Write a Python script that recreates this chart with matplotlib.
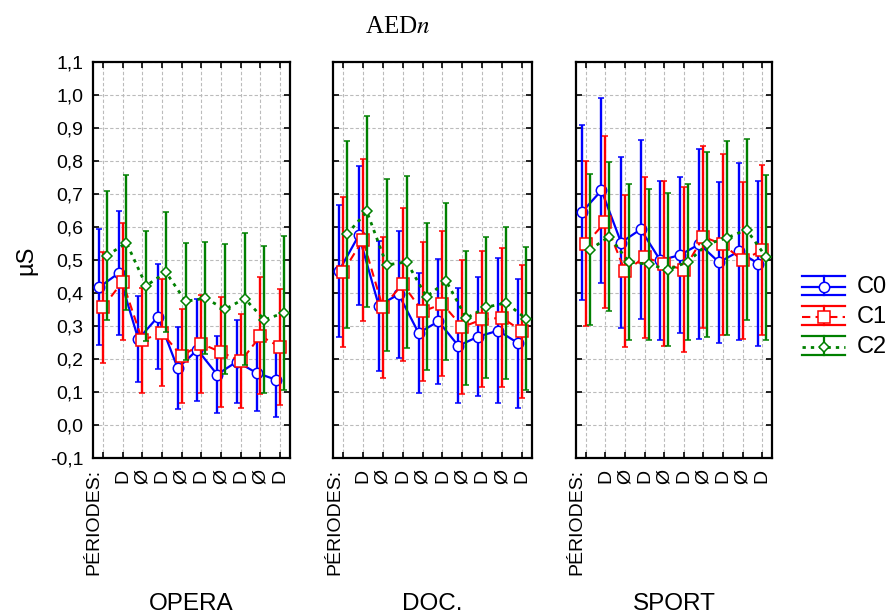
import matplotlib
matplotlib.use('Agg')
import matplotlib.pyplot as plt
from matplotlib.ticker import FuncFormatter, MultipleLocator
from matplotlib.lines import Line2D
import numpy as np

plt.rcParams['font.family'] = ['Liberation Sans', 'DejaVu Sans']

# ---------------- data ----------------
groups = ['OPERA', 'DOC.', 'SPORT']
periods = ['PÉRIODES:', 'D', 'Ø', 'D', 'Ø', 'D', 'Ø', 'D', 'Ø', 'D']
series_names = ['C0', 'C1', 'C2']

opera_c0 = [0.417, 0.460, 0.260, 0.328, 0.172, 0.228, 0.153, 0.192, 0.158, 0.137]
opera_c0_err = [0.176, 0.187, 0.130, 0.159, 0.124, 0.155, 0.116, 0.125, 0.115, 0.113]
opera_c1 = [0.357, 0.434, 0.257, 0.279, 0.209, 0.246, 0.221, 0.193, 0.270, 0.236]
opera_c1_err = [0.168, 0.177, 0.159, 0.162, 0.142, 0.148, 0.166, 0.142, 0.177, 0.175]
opera_c2 = [0.513, 0.552, 0.422, 0.463, 0.375, 0.384, 0.351, 0.383, 0.319, 0.340]
opera_c2_err = [0.195, 0.205, 0.166, 0.181, 0.178, 0.170, 0.197, 0.200, 0.222, 0.233]

doc_c0 = [0.467, 0.575, 0.362, 0.396, 0.279, 0.314, 0.240, 0.268, 0.286, 0.248]
doc_c0_err = [0.201, 0.211, 0.197, 0.192, 0.182, 0.190, 0.174, 0.179, 0.219, 0.195]
doc_c1 = [0.464, 0.561, 0.357, 0.427, 0.344, 0.367, 0.297, 0.320, 0.325, 0.284]
doc_c1_err = [0.228, 0.245, 0.214, 0.232, 0.211, 0.220, 0.204, 0.206, 0.211, 0.201]
doc_c2 = [0.578, 0.647, 0.485, 0.494, 0.389, 0.435, 0.324, 0.357, 0.370, 0.322]
doc_c2_err = [0.283, 0.290, 0.260, 0.262, 0.222, 0.239, 0.203, 0.214, 0.231, 0.217]

sport_c0 = [0.645, 0.711, 0.553, 0.593, 0.499, 0.515, 0.548, 0.493, 0.526, 0.489]
sport_c0_err = [0.265, 0.280, 0.258, 0.272, 0.241, 0.237, 0.287, 0.243, 0.269, 0.250]
sport_c1 = [0.549, 0.615, 0.466, 0.508, 0.489, 0.470, 0.570, 0.547, 0.499, 0.530]
sport_c1_err = [0.250, 0.260, 0.230, 0.245, 0.249, 0.250, 0.275, 0.274, 0.237, 0.258]
sport_c2 = [0.531, 0.571, 0.494, 0.487, 0.471, 0.494, 0.548, 0.567, 0.592, 0.509]
sport_c2_err = [0.229, 0.225, 0.236, 0.228, 0.231, 0.236, 0.280, 0.293, 0.275, 0.250]

panel_data = [
    [(opera_c0, opera_c0_err), (opera_c1, opera_c1_err), (opera_c2, opera_c2_err)],
    [(doc_c0, doc_c0_err), (doc_c1, doc_c1_err), (doc_c2, doc_c2_err)],
    [(sport_c0, sport_c0_err), (sport_c1, sport_c1_err), (sport_c2, sport_c2_err)],
]

# ---------------- styles ----------------
colors = ['#0000FF', '#FF0000', '#008000']
markers = ['o', 's', 'D']
msizes = [7.5, 8, 5]
lstyles = ['-', (0, (4, 2.5)), (0, (1.2, 1.8))]
lwidths = [1.6, 1.5, 2.0]
offsets = [-0.2, 0.0, 0.2]

W, H = 892, 616
fig = plt.figure(figsize=(W / 100, H / 100), dpi=100)

panel_px = [(93, 290), (333, 532), (576, 772)]
top_px, bot_px = 62, 458

fmt = FuncFormatter(lambda v, p: f"{v:.1f}".replace('.', ','))

for gi, (x0, x1) in enumerate(panel_px):
    ax = fig.add_axes([x0 / W, 1 - bot_px / H, (x1 - x0) / W, (bot_px - top_px) / H])
    x = np.arange(len(periods))
    for si in range(3):
        m, e = panel_data[gi][si]
        ax.errorbar(x + offsets[si], m, yerr=e, color=colors[si], ecolor=colors[si],
                    elinewidth=1.7, capsize=2, capthick=1.6, linestyle=lstyles[si],
                    linewidth=lwidths[si], marker=markers[si], markersize=msizes[si],
                    markerfacecolor='white', markeredgecolor=colors[si],
                    markeredgewidth=1.1, zorder=3 + si)
    ax.set_xlim(-0.5, 9.5)
    ax.set_ylim(-0.1, 1.1)
    ax.yaxis.set_major_locator(MultipleLocator(0.1))
    ax.yaxis.set_major_formatter(fmt)
    ax.set_xticks(x)
    ax.set_xticklabels(periods, rotation=90, fontsize=14, va='top')
    for i, lab in enumerate(ax.get_xticklabels()):
        lab.set_ha('right' if i == 0 else 'center')
    ax.tick_params(axis='both', direction='in', top=True, right=True, length=4,
                   width=1.2, labelsize=14)
    ax.tick_params(axis='x', pad=8)
    ax.tick_params(axis='y', pad=7)
    if gi > 0:
        ax.tick_params(axis='y', labelleft=False)
    ax.grid(True, color='#bbbbbb', linestyle=(0, (3, 2)), linewidth=0.8)
    ax.set_axisbelow(True)
    for sp in ax.spines.values():
        sp.set_linewidth(1.6)
    fig.text((x0 + x1) / 2 / W, 1 - 604 / H, groups[gi], ha='center', va='center', fontsize=17.5)

fig.text(26 / W, 1 - 260 / H, 'µS', rotation=90, ha='center', va='center', fontsize=17)
fig.text(398 / W, 1 - 27 / H, r'AED$\mathit{n}$', ha='center', va='center', fontsize=18,
         family='Liberation Serif', math_fontfamily='stix')

# ---------------- legend ----------------
lax = fig.add_axes([795 / W, 1 - 365 / H, 97 / W, 105 / H])
lax.set_xlim(795, 892)
lax.set_ylim(365, 260)
lax.axis('off')
row_y = [287, 317, 347]
for si in range(3):
    yc = row_y[si]
    c = colors[si]
    lax.add_line(Line2D([802, 845], [yc - 11, yc - 11], color=c, lw=1.6))
    lax.add_line(Line2D([802, 845], [yc + 8, yc + 8], color=c, lw=1.6))
    lax.add_line(Line2D([823.5, 823.5], [yc - 11, yc + 8], color=c, lw=1.6))
    lax.add_line(Line2D([802, 845], [yc, yc], color=c, lw=lwidths[si], linestyle=lstyles[si]))
    lax.add_line(Line2D([823.5], [yc], color=c, marker=markers[si], markersize=msizes[si],
                        markerfacecolor='white', markeredgecolor=c, markeredgewidth=1.1))
    lax.text(857, yc, series_names[si], fontsize=17, va='center', ha='left')

fig.savefig('out.png', dpi=100)
